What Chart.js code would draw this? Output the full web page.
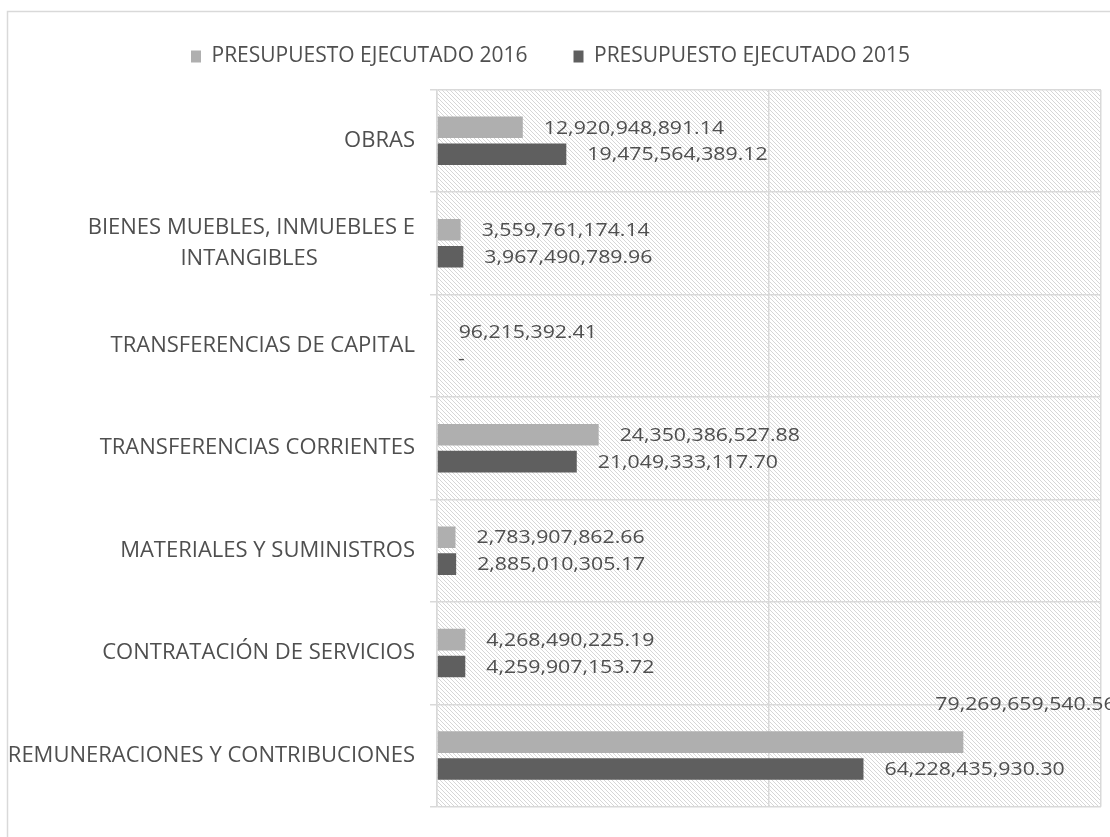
<!DOCTYPE html>
<html>
<head>
<meta charset="utf-8">
<script src="https://cdn.jsdelivr.net/npm/chart.js@4.4.1/dist/chart.umd.min.js"></script>
<style>
  html, body { margin: 0; padding: 0; background: #ffffff; }
  #wrap { width: 1110px; height: 837px; position: relative; }
</style>
</head>
<body>
<div id="wrap"><canvas id="c" width="1110" height="837"></canvas></div>
<script>
const NB = '\u00a0';
const categories = [
  'OBRAS',
  ['BIENES MUEBLES, INMUEBLES E', 'INTANGIBLES' + NB.repeat(17)],
  'TRANSFERENCIAS DE CAPITAL',
  'TRANSFERENCIAS CORRIENTES',
  'MATERIALES Y SUMINISTROS',
  'CONTRATACIÓN DE SERVICIOS',
  'REMUNERACIONES Y CONTRIBUCIONES'
];
const seriesNames = ['PRESUPUESTO EJECUTADO 2016', 'PRESUPUESTO EJECUTADO 2015'];
const values2016 = [12920948891.14, 3559761174.14, 96215392.41, 24350386527.88, 2783907862.66, 4268490225.19, 79269659540.56];
const values2015 = [19475564389.12, 3967490789.96, 0, 21049333117.70, 2885010305.17, 4259907153.72, 64228435930.30];
const xTicks = [0, 50000000000, 100000000000];

const TEXT = '#4f4f4f';
const GRID = '#d9d9d9';

function makePattern() {
  const c = document.createElement('canvas');
  c.width = 4; c.height = 4;
  const g = c.getContext('2d');
  g.fillStyle = '#ffffff';
  g.fillRect(0, 0, 4, 4);
  g.fillStyle = '#d6d6d6';
  for (let i = 0; i < 4; i++) g.fillRect(i, i, 1, 1);
  return g.createPattern(c, 'repeat');
}

const bgPlugin = {
  id: 'bg',
  beforeDraw(chart) {
    const ctx = chart.ctx;
    const a = chart.chartArea;
    ctx.save();
    ctx.fillStyle = '#ffffff';
    ctx.fillRect(0, 0, chart.width, chart.height);
    ctx.strokeStyle = '#d9d9d9';
    ctx.lineWidth = 1.5;
    ctx.strokeRect(7.5, 11.5, chart.width + 20, chart.height + 20);
    ctx.fillStyle = makePattern();
    ctx.fillRect(a.left, a.top, a.right - a.left, a.bottom - a.top);
    ctx.restore();
  }
};

function fmt(v) {
  if (v === 0) return '-';
  return v.toLocaleString('en-US', { minimumFractionDigits: 2, maximumFractionDigits: 2 });
}

const labelPlugin = {
  id: 'valueLabels',
  afterDatasetsDraw(chart) {
    const ctx = chart.ctx;
    const area = chart.chartArea;
    const sx = 1.15;
    ctx.save();
    ctx.font = '18.5px "Open Sans"';
    ctx.fillStyle = TEXT;
    ctx.textAlign = 'left';
    ctx.textBaseline = 'middle';
    chart.data.datasets.forEach((ds, di) => {
      const meta = chart.getDatasetMeta(di);
      meta.data.forEach((bar, i) => {
        const text = fmt(ds.data[i]);
        const w = ctx.measureText(text).width * sx;
        let x = bar.x + 21;
        let y = bar.y + 1;
        if (x + w > area.right) {
          x = bar.x - 28;
          y = bar.y - 37;
        }
        ctx.save();
        ctx.translate(x, y);
        ctx.scale(sx, 1);
        ctx.fillText(text, 0, 0);
        ctx.restore();
      });
    });
    ctx.restore();
  }
};

new Chart(document.getElementById('c'), {
  type: 'bar',
  data: {
    labels: categories,
    datasets: [
      { label: seriesNames[0], data: values2016, backgroundColor: '#afafaf', categoryPercentage: 0.526, barPercentage: 0.8 },
      { label: seriesNames[1], data: values2015, backgroundColor: '#5f5f5f', categoryPercentage: 0.526, barPercentage: 0.8 }
    ]
  },
  options: {
    indexAxis: 'y',
    responsive: false,
    animation: false,
    devicePixelRatio: 1,
    layout: { padding: { top: 0, left: 0, right: 9, bottom: 29 } },
    plugins: {
      legend: {
        display: true,
        position: 'top',
        labels: {
          color: TEXT,
          font: { family: '"Open Sans"', size: 21 },
          boxWidth: 10,
          boxHeight: 12,
          padding: 46
        }
      },
      tooltip: { enabled: false }
    },
    scales: {
      x: {
        position: 'top',
        min: 0,
        max: 100000000000,
        afterBuildTicks(scale) { scale.ticks = xTicks.map(v => ({ value: v })); },
        afterFit(scale) { scale.height = 12.5; },
        ticks: { display: false },
        grid: { color: GRID, lineWidth: 1.5, drawTicks: false },
        border: { display: false }
      },
      y: {
        afterFit(scale) { scale.width = 437; },
        ticks: { color: TEXT, font: { family: '"Open Sans"', size: 22, lineHeight: 1.38 }, padding: 15 },
        grid: { color: GRID, lineWidth: 1.5, tickLength: 7, offset: true },
        border: { color: GRID, width: 1.5 }
      }
    }
  },
  plugins: [bgPlugin, labelPlugin]
});
</script>
</body>
</html>
